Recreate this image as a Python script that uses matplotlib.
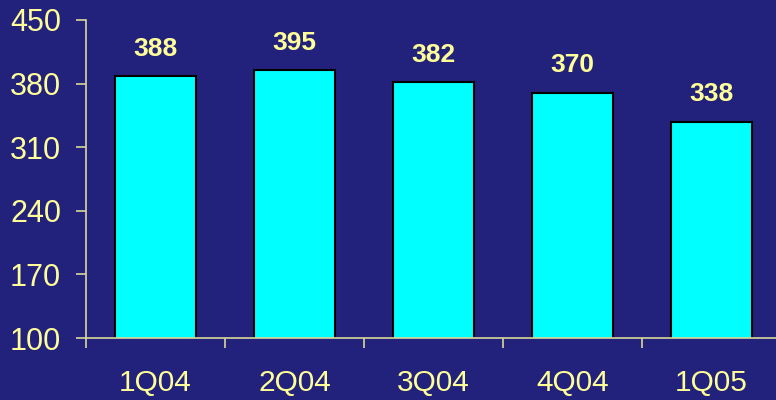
import matplotlib.pyplot as plt
import numpy as np

quarters = ["1Q04", "2Q04", "3Q04", "4Q04", "1Q05"]
values = [388, 395, 382, 370, 338]
yticks = [100, 170, 240, 310, 380, 450]

bg = "#22227c"
txt = "#ffff99"
axis_col = "#d8d89a"

fig = plt.figure(figsize=(7.76, 4.0), dpi=100, facecolor=bg)
ax = fig.add_axes([86 / 776, 62 / 400, 695 / 776, 318 / 400])
ax.set_facecolor(bg)

x = np.arange(len(quarters))
ax.bar(x, values, width=0.58, color="#00ffff", edgecolor="black", linewidth=1.5, zorder=2)

for xi, v in zip(x, values):
    ax.annotate(str(v), (xi, v), xytext=(0, 11), textcoords="offset points",
                ha="center", va="bottom", color=txt, fontsize=19,
                fontweight="bold", family="Liberation Sans")

ax.set_xlim(-0.5, len(quarters) - 0.5)
ax.set_ylim(100, 450)
ax.set_yticks(yticks)
ax.set_yticklabels([str(t) for t in yticks], color=txt, fontsize=22, family="Liberation Sans")

# ticks on category boundaries, labels centred under bars
ax.set_xticks(np.arange(len(quarters) + 1) - 0.5)
ax.set_xticklabels([])
ax.set_xticks(x, minor=True)
ax.set_xticklabels(quarters, minor=True, color=txt, fontsize=21.5, family="Liberation Sans")
ax.tick_params(axis="x", which="minor", length=0, pad=22)
ax.tick_params(axis="x", which="major", length=7, color=axis_col, width=1.2, direction="out")
ax.tick_params(axis="y", length=7, color=axis_col, width=1.2, direction="out", pad=11)

for s in ["top", "right"]:
    ax.spines[s].set_visible(False)
for s in ["left", "bottom"]:
    ax.spines[s].set_color(axis_col)
    ax.spines[s].set_linewidth(1.2)

fig.savefig("out.png", dpi=100, facecolor=bg)
